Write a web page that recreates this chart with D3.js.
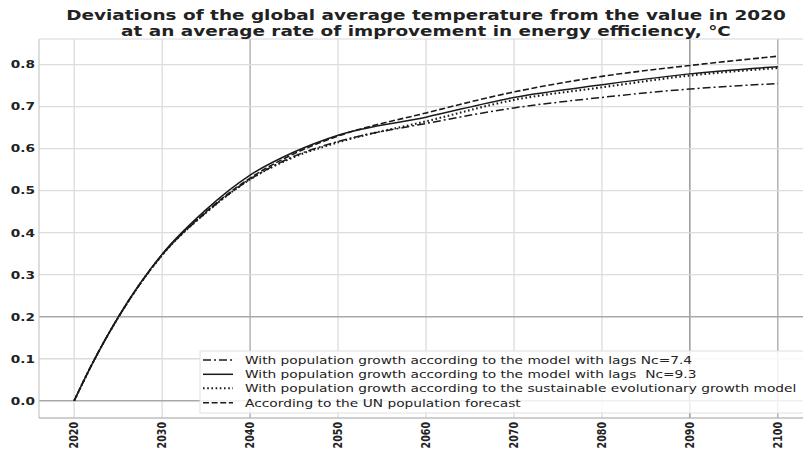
<!DOCTYPE html>
<html>
<head>
<meta charset="utf-8">
<script src="https://cdn.jsdelivr.net/npm/d3@7"></script>
<style>
  body { margin: 0; background: #fff; }
  text { font-family: "DejaVu Sans", sans-serif; fill: #222; }
</style>
</head>
<body>
<svg id="chart" width="803" height="450"></svg>
<script>
// data
var years = [2020, 2022, 2025, 2030, 2035, 2040, 2045, 2050, 2060, 2070, 2080, 2090, 2100];
var lags74 = [0, 0.086, 0.198, 0.347, 0.448, 0.527, 0.582, 0.617, 0.66, 0.697, 0.722, 0.742, 0.755];
var lags93 = [0, 0.086, 0.199, 0.349, 0.455, 0.537, 0.592, 0.632, 0.675, 0.722, 0.752, 0.778, 0.795];
var sustainable = [0, 0.086, 0.198, 0.347, 0.448, 0.527, 0.58, 0.615, 0.665, 0.716, 0.746, 0.774, 0.792];
var unForecast = [0, 0.086, 0.198, 0.347, 0.45, 0.53, 0.588, 0.63, 0.685, 0.735, 0.772, 0.798, 0.82];
var seriesNames = [
  "With population growth according to the model with lags Nc=7.4",
  "With population growth according to the model with lags  Nc=9.3",
  "With population growth according to the sustainable evolutionary growth model",
  "According to the UN population forecast"
];
var xTicks = [2020, 2030, 2040, 2050, 2060, 2070, 2080, 2090, 2100];
var yTicks = [0.0, 0.1, 0.2, 0.3, 0.4, 0.5, 0.6, 0.7, 0.8];
var titleLines = [
  "Deviations of the global average temperature from the value in 2020",
  "at an average rate of improvement in energy efficiency, \u00b0C"
];

var svg = d3.select("#chart");
var plot = { l: 39, t: 39, r: 813, b: 418 };

var x = d3.scaleLinear().domain([2016, 2104]).range([plot.l, plot.r]);
var y = d3.scaleLinear().domain([-0.041, 0.861]).range([plot.b, plot.t]);

// stretch text horizontally so it spans a given width
function stretchTo(sel, target) {
  var w = sel.node().getComputedTextLength();
  return target / w;
}

// grid
var grid = svg.append("g");
grid.selectAll(".vg").data(xTicks).enter().append("line")
  .attr("x1", d => x(d)).attr("x2", d => x(d))
  .attr("y1", plot.t).attr("y2", plot.b)
  .attr("stroke", d => (d === 2090 ? "#8a8a8a" : d === 2040 || d === 2100 ? "#a8a8a8" : "#dcdcdc"))
  .attr("stroke-width", 1.3);
grid.selectAll(".hg").data(yTicks).enter().append("line")
  .attr("x1", plot.l).attr("x2", 803)
  .attr("y1", d => y(d)).attr("y2", d => y(d))
  .attr("stroke", d => (d === 0 || d === 0.2 ? "#a8a8a8" : "#dcdcdc"))
  .attr("stroke-width", 1.3);

// frame
svg.append("line").attr("x1", plot.l).attr("x2", plot.l).attr("y1", plot.t).attr("y2", plot.b)
  .attr("stroke", "#c8c8c8").attr("stroke-width", 1.2);
svg.append("line").attr("x1", plot.l).attr("x2", 803).attr("y1", plot.t).attr("y2", plot.t)
  .attr("stroke", "#d8d8d8").attr("stroke-width", 1.2);
svg.append("line").attr("x1", plot.l).attr("x2", 803).attr("y1", plot.b).attr("y2", plot.b)
  .attr("stroke", "#a0a0a0").attr("stroke-width", 1.2);

// tick labels
var ySx = 1.3;
svg.selectAll(".ylab").data(yTicks).enter().append("text")
  .attr("transform", d => `translate(35,${y(d) + 3.8}) scale(${ySx},1)`)
  .attr("text-anchor", "end")
  .style("font-size", "10.5px").style("font-weight", "bold")
  .text(d => d3.format(".1f")(d));

svg.selectAll(".xlab").data(xTicks).enter().append("text")
  .attr("transform", d => `translate(${x(d) + 3.8},422) scale(1.3,1) rotate(-90)`)
  .attr("text-anchor", "end")
  .style("font-size", "9.5px").style("font-weight", "bold")
  .text(d => d);

// lines
var series = [
  { vals: lags74, dash: "8,3,2,3", w: 1.5 },
  { vals: lags93, dash: null, w: 1.5 },
  { vals: sustainable, dash: "1.6,2.6", w: 2.1 },
  { vals: unForecast, dash: "6,2.6", w: 1.6 }
];
var line = d3.line()
  .x((d, i) => x(years[i]))
  .y(d => y(d))
  .curve(d3.curveMonotoneX);

svg.selectAll(".series").data(series).enter().append("path")
  .attr("fill", "none")
  .attr("stroke", "#1a1a1a")
  .attr("stroke-width", d => d.w)
  .attr("stroke-dasharray", d => d.dash)
  .attr("d", d => line(d.vals));

// legend
var legend = svg.append("g");
legend.append("rect")
  .attr("x", 200).attr("y", 351).attr("width", 620).attr("height", 62)
  .attr("fill", "#fff").attr("fill-opacity", 0.82)
  .attr("stroke", "#e0e0e0");

var rowY = [360, 374.3, 388.3, 402.8];
series.forEach(function (s, i) {
  legend.append("line")
    .attr("x1", 203).attr("x2", 233)
    .attr("y1", rowY[i]).attr("y2", rowY[i])
    .attr("stroke", "#1a1a1a").attr("stroke-width", s.w)
    .attr("stroke-dasharray", s.dash);
});
var legText = legend.selectAll(".lt").data(seriesNames).enter().append("text")
  .attr("y", (d, i) => rowY[i] + 4)
  .style("font-size", "11px")
  .style("white-space", "pre")
  .text(d => d);
var legSx = stretchTo(d3.select(legText.nodes()[2]), 552);
legText.attr("transform", (d, i) => `translate(245,0) scale(${legSx},1)`).attr("x", 0);

// title
var title = svg.selectAll(".title").data(titleLines).enter().append("text")
  .attr("text-anchor", "middle")
  .style("font-size", "14.5px").style("font-weight", "bold")
  .text(d => d);
var tSx = stretchTo(d3.select(title.nodes()[0]), 720);
title.attr("transform", (d, i) => `translate(426,${20 + i * 16}) scale(${tSx},1)`);
</script>
</body>
</html>
